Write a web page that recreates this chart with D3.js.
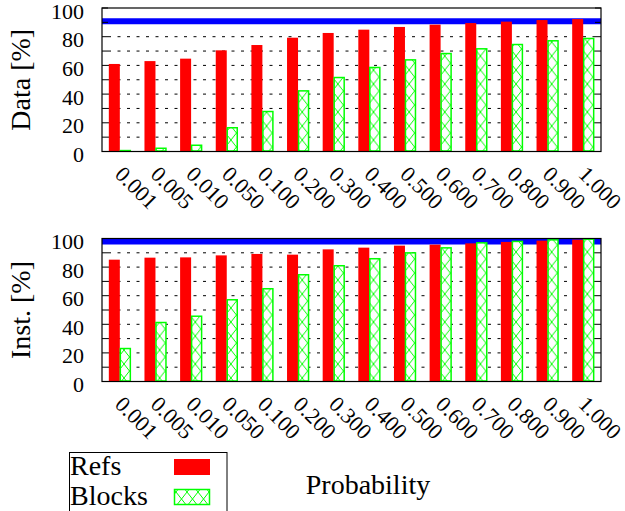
<!DOCTYPE html>
<html>
<head>
<meta charset="utf-8">
<script src="https://cdn.jsdelivr.net/npm/d3@7"></script>
<style>
  body { margin: 0; background: #fff; }
  svg text { font-family: "Liberation Serif"; }
</style>
</head>
<body>
<div id="vis"></div>
<script>
// DATA ------------------------------------------------------------------
const probabilities = ["0.001","0.005","0.010","0.050","0.100","0.200","0.300",
                       "0.400","0.500","0.600","0.700","0.800","0.900","1.000"]
const seriesNames = ["Refs", "Blocks"]

// top panel: Data [%]
const dataRefs   = [61, 63, 64.7, 70.5, 74.2, 79.3, 82.6, 84.9, 86.8, 88.4, 89.5, 90.5, 91.6, 92.3]
const dataBlocks = [1, 2.6, 4.7, 16.9, 28.2, 42.6, 51.9, 58.9, 64.2, 68.6, 71.9, 74.9, 77.5, 79.1]
const dataRefLine = 90.7

// bottom panel: Inst. [%]
const instRefs   = [85.2, 86.6, 86.8, 88.2, 89.2, 88.7, 92.4, 93.6, 95, 95.7, 96.6, 97.6, 98.5, 99.2]
const instBlocks = [23.4, 41.6, 46, 57.5, 65.2, 75, 81.3, 86.2, 90.3, 93.8, 97.3, 98.3, 99.4, 99.9]
const instRefLine = 97.9

const yTicks = [0, 20, 40, 60, 80, 100]
const yGrid  = d3.range(0, 101, 10)

// SETUP -----------------------------------------------------------------
const width = 625, height = 511
const red = "#ff0000", green = "#00ff00", blue = "#0000ff"
const serif = "Liberation Serif"

const svg = d3.select("#vis").append("svg")
  .attr("width", width)
  .attr("height", height)

// every text gets the font set on itself
const label = (sel, size) => sel.attr("font-family", serif).attr("font-size", size).attr("fill", "#000")

// crosshatch pattern for the Blocks bars
const pat = svg.append("defs").append("pattern")
  .attr("id", "xhatch")
  .attr("patternUnits", "userSpaceOnUse")
  .attr("width", 11).attr("height", 14)
pat.append("rect").attr("width", 11).attr("height", 14).attr("fill", "#fff")
pat.append("path")
  .attr("d", "M0,0L11,14M11,0L0,14")
  .attr("stroke", green).attr("stroke-width", 1)

const x = d3.scaleBand()
  .domain(probabilities)
  .range([102, 601])
  .padding(0)

const xSub = d3.scaleBand()
  .domain(seriesNames)
  .range([0, x.bandwidth()])
  .paddingInner(0)
  .paddingOuter(0.62)

// PANEL -----------------------------------------------------------------
function drawPanel(top, bottom, refs, blocks, refLine, title) {
  const y = d3.scaleLinear().domain([0, 100]).range([bottom, top])
  const g = svg.append("g")
  const left = x.range()[0], right = x.range()[1]

  // dashed grid
  g.append("g").selectAll("line")
    .data(yGrid.filter(v => v > 0 && v < 100))
    .join("line")
    .attr("x1", left + 6).attr("x2", right - 6)
    .attr("y1", d => y(d)).attr("y2", d => y(d))
    .attr("stroke", "#000").attr("stroke-width", 1)
    .attr("stroke-dasharray", "3,6.5")

  // reference line
  g.append("line")
    .attr("x1", left).attr("x2", right)
    .attr("y1", y(refLine)).attr("y2", y(refLine))
    .attr("stroke", blue).attr("stroke-width", 6)

  const rows = probabilities.map((p, i) => ({ p, refs: refs[i], blocks: blocks[i] }))

  // bars
  const grp = g.append("g").selectAll("g")
    .data(rows)
    .join("g")
    .attr("transform", d => `translate(${x(d.p)},0)`)

  grp.append("rect")
    .attr("x", xSub("Refs"))
    .attr("width", xSub.bandwidth())
    .attr("y", d => y(d.refs))
    .attr("height", d => y(0) - y(d.refs))
    .attr("fill", red)

  grp.append("rect")
    .attr("x", xSub("Blocks") + 0.5)
    .attr("width", xSub.bandwidth() - 1)
    .attr("y", d => y(d.blocks) + 0.5)
    .attr("height", d => Math.max(0, y(0) - y(d.blocks) - 1))
    .attr("fill", "url(#xhatch)")
    .attr("stroke", green).attr("stroke-width", 1.5)

  // frame
  g.append("rect")
    .attr("x", left).attr("y", top)
    .attr("width", right - left).attr("height", bottom - top)
    .attr("fill", "none").attr("stroke", "#000").attr("stroke-width", 1.2)

  // inward ticks, left and right
  const tk = g.append("g").selectAll("g").data(yGrid).join("g")
  tk.append("line")
    .attr("x1", left).attr("x2", left + 6)
    .attr("y1", d => y(d)).attr("y2", d => y(d))
    .attr("stroke", "#000")
  tk.append("line")
    .attr("x1", right - 6).attr("x2", right)
    .attr("y1", d => y(d)).attr("y2", d => y(d))
    .attr("stroke", "#000")

  // y tick labels
  g.append("g").selectAll("text")
    .data(yTicks)
    .join("text")
    .call(label, 22)
    .attr("x", 84)
    .attr("y", d => y(d) + 10.5)
    .attr("text-anchor", "end")
    .text(d => d)

  // x tick labels, rotated
  g.append("g").selectAll("text")
    .data(probabilities)
    .join("text")
    .call(label, 22)
    .attr("transform", d => `translate(${x(d) + x.bandwidth() / 2 - 6},${bottom + 24}) rotate(45)`)
    .text(d => d)

  // y title
  g.append("text")
    .call(label, 28)
    .attr("transform", `translate(30,${(top + bottom) / 2}) rotate(-90)`)
    .attr("text-anchor", "middle")
    .text(title)
}

drawPanel(8, 151.5, dataRefs, dataBlocks, dataRefLine, "Data [%]")
drawPanel(238.5, 381.5, instRefs, instBlocks, instRefLine, "Inst. [%]")

// x title
svg.append("text")
  .call(label, 28)
  .attr("x", 368).attr("y", 494)
  .attr("text-anchor", "middle")
  .text("Probability")

// LEGEND ----------------------------------------------------------------
const legend = svg.append("g")
legend.append("rect")
  .attr("x", 69.5).attr("y", 452.5)
  .attr("width", 157.5).attr("height", 70)
  .attr("fill", "none").attr("stroke", "#000").attr("stroke-width", 1)

const legendItems = legend.selectAll("g")
  .data(seriesNames)
  .join("g")
  .attr("transform", (d, i) => `translate(0,${i * 30})`)

legendItems.append("text")
  .call(label, 28)
  .attr("x", 70).attr("y", 475)
  .text(d => d)

legendItems.append("rect")
  .attr("x", d => d === "Refs" ? 174 : 174.5)
  .attr("y", d => d === "Refs" ? 459 : 459.5)
  .attr("width", d => d === "Refs" ? 36 : 35)
  .attr("height", d => d === "Refs" ? 16 : 15)
  .attr("fill", d => d === "Refs" ? red : "url(#xhatch)")
  .attr("stroke", d => d === "Refs" ? "none" : green)
  .attr("stroke-width", 1.5)
</script>
</body>
</html>
